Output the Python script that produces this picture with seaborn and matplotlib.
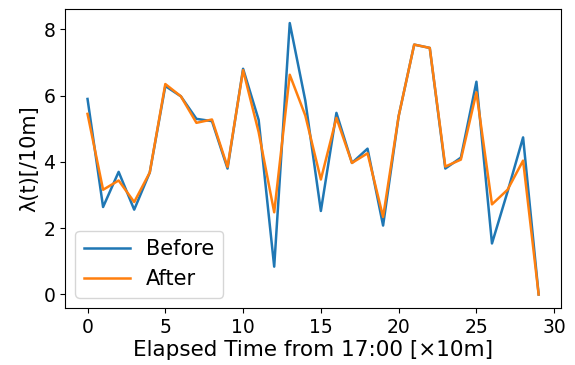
import matplotlib
matplotlib.use("Agg")
import matplotlib.pyplot as plt
import seaborn as sns
import pandas as pd

time_steps = list(range(30))
before = [5.9, 2.64, 3.7, 2.56, 3.68, 6.29, 5.98, 5.3, 5.23, 3.8,
          6.81, 5.27, 0.84, 8.19, 5.85, 2.52, 5.48, 3.97, 4.4, 2.08,
          5.38, 7.54, 7.44, 3.8, 4.13, 6.42, 1.54, 3.1, 4.74, 0.0]
after = [5.45, 3.16, 3.44, 2.79, 3.68, 6.35, 5.98, 5.18, 5.28, 3.85,
         6.77, 4.9, 2.48, 6.63, 5.4, 3.47, 5.33, 3.97, 4.26, 2.34,
         5.38, 7.54, 7.44, 3.86, 4.07, 6.1, 2.72, 3.16, 4.04, 0.0]
series_names = ["Before", "After"]

df = pd.DataFrame({
    "t": time_steps * 2,
    "value": before + after,
    "series": [series_names[0]] * len(before) + [series_names[1]] * len(after),
})

fig, ax = plt.subplots(figsize=(5.75, 3.65), dpi=100)
fig.subplots_adjust(left=0.113, right=0.976, top=0.974, bottom=0.156)

sns.lineplot(data=df, x="t", y="value", hue="series",
             palette=["#1f77b4", "#ff7f0e"], linewidth=1.8, ax=ax)

ax.set_xlabel("Elapsed Time from 17:00 [×10m]", fontsize=15.5, labelpad=2.5)
ax.set_ylabel("λ(t)[/10m]", fontsize=15, labelpad=3)
ax.tick_params(labelsize=13.5)
ax.set_xticks([0, 5, 10, 15, 20, 25, 30])
ax.set_yticks([0, 2, 4, 6, 8])
ax.legend(loc="lower left", fontsize=15, title=None, handlelength=2.2)

fig.savefig("out.png", dpi=100)
